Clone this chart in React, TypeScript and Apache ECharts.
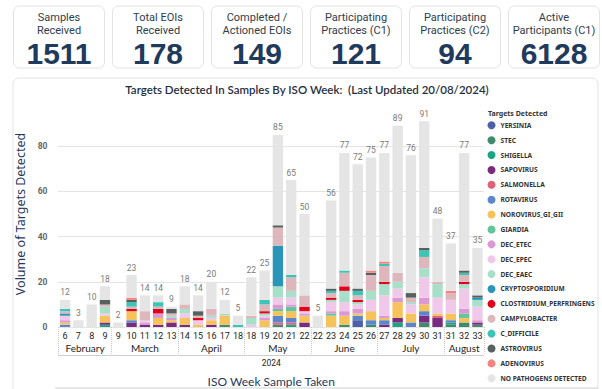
import React, { useEffect, useRef } from 'react';
import * as echarts from 'echarts';

const kpiLabels = [
  ['Samples', 'Received'],
  ['Total EOIs', 'Received'],
  ['Completed /', 'Actioned EOIs'],
  ['Participating', 'Practices (C1)'],
  ['Participating', 'Practices (C2)'],
  ['Active', 'Participants (C1)'],
];
const kpiValues = [1511, 178, 149, 121, 94, 6128];

const chartTitle = 'Targets Detected In Samples By ISO Week:  (Last Updated 20/08/2024)';
const yAxisTitle = 'Volume of Targets Detected';
const xAxisTitle = 'ISO Week Sample Taken';
const legendTitle = 'Targets Detected';
const yearLabel = '2024';

const months = ['February', 'March', 'April', 'May', 'June', 'July', 'August'];
const monthWeeks = [
  [6, 7, 8, 9],
  [9, 10, 11, 12, 13],
  [14, 15, 16, 17, 18],
  [18, 19, 20, 21, 22],
  [22, 23, 24, 25, 26],
  [27, 28, 29, 30, 31],
  [31, 32, 33],
];

const totals = [12, 3, 10, 18, 2, 23, 14, 14, 9, 18, 14, 20, 12, 5, 22, 25, 85, 65, 50, 5, 56, 77, 72, 75, 77, 89, 76, 91, 48, 37, 77, 35];

const seriesNames = [
  'YERSINIA', 'STEC', 'SHIGELLA', 'SAPOVIRUS', 'SALMONELLA', 'ROTAVIRUS', 'NOROVIRUS_GI_GII', 'GIARDIA',
  'DEC_ETEC', 'DEC_EPEC', 'DEC_EAEC', 'CRYPTOSPORIDIUM', 'CLOSTRIDIUM_PERFRINGENS', 'CAMPYLOBACTER',
  'C_DIFFICILE', 'ASTROVIRUS', 'ADENOVIRUS', 'NO PATHOGENS DETECTED',
];
const seriesColors = [
  '#4D5FA6', '#3F8B6C', '#1FA384', '#7A2A80', '#E0627A', '#5C86CC', '#F5C25C', '#64C49C',
  '#DB99D3', '#F0C8EA', '#A8DFC9', '#2B95B9', '#E3001B', '#DDB7BB', '#3CC5B6', '#55605F', '#F48484', '#E5E5E5',
];

const yersinia = [0, 0, 0, 0, 0, 0, 0, 0, 0, 0, 0, 0, 0, 0, 0, 0, 0, 0, 0, 0, 0, 0, 3, 0, 0, 0, 0, 0, 0, 0, 0, 0];
const stec = [0, 0, 0, 0, 0, 0, 0, 0, 0, 0, 0, 0, 1, 0, 0, 0, 1, 0, 0, 0, 0, 1, 0, 1, 0, 0, 0, 2, 0, 1, 2, 1];
const shigella = [0, 0, 0, 1, 0, 0, 0, 0, 0, 0, 0, 0, 0, 0, 0, 0, 0, 1, 0, 0, 0, 0, 0, 0, 0, 2, 0, 0, 0, 1, 0, 0];
const sapovirus = [0, 0, 0, 1, 0, 2, 1, 1, 2, 1, 0, 1, 0, 0, 0, 0, 0, 0, 2, 0, 0, 0, 0, 0, 1, 2, 0, 3, 4, 0, 0, 1];
const salmonella = [0, 0, 0, 0, 0, 0, 0, 0, 0, 0, 0, 0, 0, 0, 0, 0, 1, 1, 0, 0, 0, 0, 0, 0, 0, 0, 0, 0, 1, 0, 0, 0];
const rotavirus = [1, 0, 0, 0, 0, 1, 0, 0, 0, 0, 0, 0, 0, 0, 0, 0, 3, 2, 0, 0, 0, 0, 2, 2, 2, 0, 2, 2, 0, 1, 0, 0];
const norovirus = [1, 0, 0, 3, 0, 4, 0, 3, 1, 3, 1, 2, 4, 0, 0, 3, 2, 3, 3, 0, 5, 4, 1, 4, 1, 7, 4, 3, 1, 3, 2, 0];
const giardia = [0, 0, 0, 0, 0, 0, 0, 0, 0, 0, 0, 0, 0, 0, 0, 0, 1, 2, 0, 0, 1, 0, 0, 0, 0, 0, 0, 0, 0, 0, 2, 0];
const decEtec = [1, 0, 0, 0, 0, 0, 1, 2, 1, 0, 0, 0, 0, 0, 0, 1, 2, 1, 1, 0, 1, 2, 2, 0, 1, 2, 0, 3, 0, 0, 2, 1];
const decEpec = [2, 0, 0, 1, 0, 0, 1, 0, 0, 2, 2, 1, 0, 0, 1, 1, 3, 3, 1, 0, 4, 4, 2, 5, 9, 4, 4, 9, 7, 6, 9, 6];
const decEaec = [0, 0, 0, 3, 0, 0, 0, 0, 1, 2, 0, 1, 1, 0, 3, 1, 5, 3, 0, 0, 1, 5, 1, 4, 5, 3, 1, 4, 6, 0, 2, 3];
const cryptosporidium = [1, 0, 0, 0, 0, 0, 0, 0, 0, 0, 0, 0, 0, 0, 0, 0, 18, 0, 0, 0, 0, 0, 0, 0, 0, 0, 0, 0, 0, 0, 0, 1];
const clostridium = [0, 0, 0, 0, 0, 1, 0, 2, 0, 0, 1, 0, 0, 0, 0, 1, 0, 0, 2, 0, 1, 2, 1, 0, 1, 0, 0, 0, 0, 0, 1, 0];
const campylobacter = [1, 0, 0, 1, 0, 1, 4, 1, 1, 2, 1, 3, 0, 0, 1, 3, 8, 6, 5, 0, 2, 6, 2, 7, 7, 4, 2, 5, 1, 3, 3, 0];
const cDifficile = [1, 0, 0, 0, 0, 2, 0, 2, 0, 0, 0, 0, 0, 1, 0, 2, 0, 1, 0, 0, 1, 1, 2, 0, 1, 0, 0, 3, 0, 0, 1, 0];
const astrovirus = [0, 0, 0, 2, 0, 1, 0, 0, 2, 0, 2, 0, 0, 0, 0, 0, 1, 0, 0, 0, 1, 0, 1, 1, 0, 0, 2, 1, 0, 0, 1, 1];
const adenovirus = [0, 0, 0, 0, 0, 1, 0, 0, 0, 0, 0, 0, 0, 0, 0, 0, 0, 0, 0, 0, 0, 0, 0, 1, 1, 0, 0, 0, 0, 1, 0, 0];
const noPathogens = [4, 3, 10, 6, 2, 10, 7, 3, 1, 8, 7, 12, 6, 4, 17, 13, 40, 42, 36, 5, 39, 52, 55, 50, 48, 65, 61, 56, 28, 21, 52, 21];

const seriesData = [
  yersinia, stec, shigella, sapovirus, salmonella, rotavirus, norovirus, giardia,
  decEtec, decEpec, decEaec, cryptosporidium, clostridium, campylobacter, cDifficile, astrovirus, adenovirus, noPathogens,
];

const FONT = 'Noto Sans';
const DARK = '#252423';
const NAVY = '#1F3A5C';

export default function App() {
  const ref = useRef<HTMLDivElement>(null);
  useEffect(() => {
    const el = ref.current!;
    const chart = echarts.init(el, null, { renderer: 'svg' });

    const categories: string[] = [];
    const groups: { name: string; start: number; end: number }[] = [];
    const boundaries = new Set<number>();
    monthWeeks.forEach((ws, mi) => {
      const start = categories.length;
      boundaries.add(start);
      ws.forEach((w) => categories.push(`${months[mi]}|${w}`));
      groups.push({ name: months[mi], start, end: categories.length - 1 });
    });
    boundaries.add(categories.length);

    const series = seriesData.map((d, k) => ({
      name: seriesNames[k],
      type: 'bar',
      stack: 'all',
      data: d,
      barCategoryGap: '22%',
      itemStyle: { color: seriesColors[k] },
      emphasis: { disabled: true },
      label:
        k === seriesData.length - 1
          ? {
              show: true,
              position: 'top',
              distance: 3,
              formatter: (p: any) => String(totals[p.dataIndex]),
              fontSize: 8.5,
              color: '#7a7a7a',
              fontFamily: 'Roboto',
            }
          : { show: false },
    }));

    chart.setOption({
      animation: false,
      backgroundColor: '#ffffff',
      grid: { left: 58.4, right: 117.9, top: 101, bottom: 62 },
      legend: {
        orient: 'vertical',
        left: 487.5,
        top: 121.3,
        bottom: 0,
        padding: 0,
        itemWidth: 8,
        itemHeight: 8,
        itemGap: 6.88,
        icon: 'circle',
        selectedMode: false,
        textStyle: { fontSize: 6.6, fontWeight: 'bold', color: '#333', fontFamily: FONT, lineHeight: 8 },
        data: seriesNames,
      },
      xAxis: [
        {
          type: 'category',
          data: categories,
          axisLine: { show: false },
          axisTick: {
            show: true,
            interval: (i: number) => boundaries.has(i),
            length: 28,
            lineStyle: { type: 'dotted', color: '#c8c8c8' },
          },
          axisLabel: {
            interval: 0,
            margin: 4,
            fontSize: 9,
            color: DARK,
            fontFamily: 'Roboto',
            formatter: (v: string) => v.split('|')[1],
          },
        },
        {
          type: 'category',
          data: categories,
          position: 'bottom',
          offset: 28,
          axisLine: { show: true, lineStyle: { type: 'dotted', color: '#c8c8c8' } },
          axisTick: { show: false },
          axisLabel: { show: false },
        },
      ],
      yAxis: {
        type: 'value',
        min: 0,
        max: 100,
        interval: 20,
        name: yAxisTitle,
        nameLocation: 'middle',
        nameGap: 25,
        nameTextStyle: { fontSize: 12.5, color: NAVY, fontFamily: FONT },
        axisLine: { show: false },
        axisTick: { show: false },
        axisLabel: { fontSize: 8.5, color: '#666', fontWeight: 'bold', fontFamily: 'Roboto', margin: 11, showMaxLabel: false },
        splitLine: { show: true, showMaxLine: false, lineStyle: { type: 'dotted', color: '#c8c8c8' } },
      },
      series,
    });

    const px = (i: number) => chart.convertToPixel({ xAxisIndex: 0 }, i) as number;
    const y0 = chart.convertToPixel({ yAxisIndex: 0 }, 0) as number;
    const firstX = px(0);
    const lastX = px(categories.length - 1);
    const axisCenter = (firstX + lastX) / 2;

    const graphics: any[] = [];
    kpiValues.forEach((v, i) => {
      const x = 13.5 + i * 99;
      const cx = x + 45.5;
      graphics.push({
        type: 'rect',
        z: 0,
        shape: { x, y: 6, width: 91, height: 62, r: 6 },
        style: { fill: '#fff', stroke: '#e3e3e3', lineWidth: 1 },
      });
      graphics.push({
        type: 'text',
        z: 1,
        x: cx,
        y: 17.5,
        style: { text: kpiLabels[i][0], fontSize: 11, fontFamily: 'Roboto', fill: '#2f3d4c', textAlign: 'center', textVerticalAlign: 'middle' },
      });
      graphics.push({
        type: 'text',
        z: 1,
        x: cx,
        y: 30.5,
        style: { text: kpiLabels[i][1], fontSize: 11, fontFamily: 'Roboto', fill: '#2f3d4c', textAlign: 'center', textVerticalAlign: 'middle' },
      });
      graphics.push({
        type: 'text',
        z: 1,
        x: cx,
        y: 53,
        style: { text: String(v), fontSize: 30, fontWeight: 'bold', fontFamily: 'Liberation Sans', fill: NAVY, textAlign: 'center', textVerticalAlign: 'middle' },
      });
    });
    graphics.push({
      type: 'rect',
      z: -1,
      shape: { x: 13, y: 78, width: 585, height: 340, r: 6 },
      style: { fill: '#fff', stroke: '#e3e3e3', lineWidth: 1 },
    });
    graphics.push({
      type: 'text',
      z: 1,
      x: 307,
      y: 89,
      style: { text: chartTitle, fontSize: 11.5, fontWeight: 600, fontFamily: 'Lato', fill: '#1F2F3F', textAlign: 'center', textVerticalAlign: 'middle' },
    });
    graphics.push({
      type: 'text',
      z: 1,
      x: 488,
      y: 113,
      style: { text: legendTitle, fontSize: 7, fontWeight: 'bold', fontFamily: FONT, fill: '#333', textAlign: 'left', textVerticalAlign: 'middle' },
    });
    groups.forEach((g) => {
      graphics.push({
        type: 'text',
        z: 1,
        x: (px(g.start) + px(g.end)) / 2,
        y: y0 + 20.5,
        style: { text: g.name, fontSize: 10, fontFamily: 'Lato', fill: DARK, textAlign: 'center', textVerticalAlign: 'middle' },
      });
    });
    graphics.push({
      type: 'text',
      z: 1,
      x: axisCenter,
      y: y0 + 36,
      style: { text: yearLabel, fontSize: 8.5, fontFamily: 'Roboto', fill: DARK, textAlign: 'center', textVerticalAlign: 'middle' },
    });
    graphics.push({
      type: 'text',
      z: 1,
      x: axisCenter,
      y: y0 + 54,
      style: { text: xAxisTitle, fontSize: 12, fontFamily: 'Lato', fill: NAVY, textAlign: 'center', textVerticalAlign: 'middle' },
    });
    graphics.push({
      type: 'line',
      z: 1,
      shape: { x1: 55, y1: 388, x2: 598, y2: 388 },
      style: { stroke: '#d0d0d0', lineWidth: 1 },
    });

    chart.setOption({ graphic: graphics });

    return () => chart.dispose();
  }, []);
  return <div ref={ref} style={{ position: 'fixed', left: 0, top: 0, width: 602, height: 389, background: '#fff' }} />;
}
